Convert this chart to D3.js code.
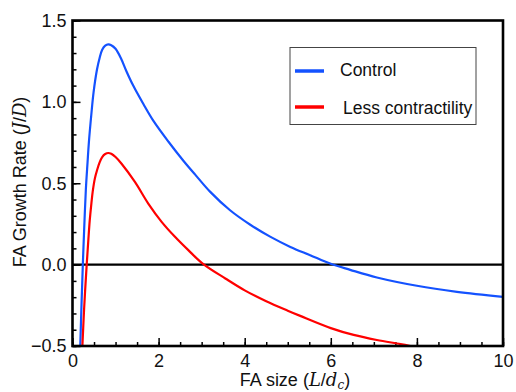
<!DOCTYPE html>
<html>
<head>
<meta charset="utf-8">
<script src="https://cdn.jsdelivr.net/npm/d3@7"></script>
<style>
  body { margin: 0; background: #fff; }
  svg { display: block; }
  text { font-family: "Liberation Sans", Arial, sans-serif; fill: #111; }
</style>
</head>
<body>
<div id="canvas"></div>
<script>
"use strict"

// values
let controlX = [0.18, 0.21, 0.24, 0.27, 0.31, 0.35, 0.38, 0.44, 0.49, 0.57, 0.63, 0.69, 0.76, 0.83, 0.90, 1.0, 1.13, 1.25, 1.41, 1.65, 1.88, 2.23, 2.58, 2.85, 3.2, 3.66, 4.13, 4.59, 5.06, 5.52, 6.0, 6.45, 7.07, 8.0, 8.93, 10.0];
let controlY = [-0.5, -0.24, 0.0, 0.21, 0.46, 0.63, 0.75, 0.93, 1.06, 1.20, 1.27, 1.32, 1.345, 1.353, 1.348, 1.326, 1.265, 1.19, 1.10, 0.985, 0.883, 0.755, 0.637, 0.553, 0.447, 0.334, 0.245, 0.172, 0.109, 0.058, 0.005, -0.032, -0.079, -0.13, -0.167, -0.198];

let lessX = [0.23, 0.27, 0.33, 0.37, 0.40, 0.44, 0.47, 0.52, 0.57, 0.63, 0.69, 0.76, 0.83, 0.90, 1.0, 1.14, 1.45, 1.76, 2.07, 2.38, 2.69, 3.04, 3.55, 4.0, 4.5, 5.0, 5.29, 6.0, 6.53, 7.07, 7.62, 7.85];
let lessY = [-0.5, -0.27, 0.0, 0.16, 0.27, 0.38, 0.45, 0.53, 0.58, 0.628, 0.661, 0.68, 0.686, 0.681, 0.661, 0.62, 0.508, 0.375, 0.263, 0.171, 0.089, 0.003, -0.085, -0.158, -0.225, -0.283, -0.315, -0.39, -0.432, -0.463, -0.488, -0.5];

let seriesNames = ["Control", "Less contractility"];
let seriesColors = ["#1452ff", "#ff0000"];

let xTicks = [0, 2, 4, 6, 8, 10];
let yTicks = [-0.5, 0.0, 0.5, 1.0, 1.5];

let W = 516, H = 392;
let plotLeft = 72.5, plotRight = 503, plotTop = 20.5, plotBottom = 346;

let drawing = d3.select("#canvas")
    .append("svg")
    .attr("width", W)
    .attr("height", H);

let x = d3.scaleLinear().domain([0, 10]).range([plotLeft, plotRight]);
let y = d3.scaleLinear().domain([-0.5, 1.5]).range([plotBottom, plotTop]);

// minor ticks
drawing.append("g")
    .attr("transform", `translate(0,${plotBottom})`)
    .call(d3.axisBottom(x).tickValues(d3.range(0, 10.01, 0.5)).tickSizeInner(-4).tickSizeOuter(0).tickFormat(""))
    .call(g => g.select(".domain").remove())
    .call(g => g.selectAll("line").attr("stroke", "#000").attr("stroke-width", 1.5));

drawing.append("g")
    .attr("transform", `translate(${plotLeft},0)`)
    .call(d3.axisLeft(y).tickValues(d3.range(-0.5, 1.51, 0.1)).tickSizeInner(-4).tickSizeOuter(0).tickFormat(""))
    .call(g => g.select(".domain").remove())
    .call(g => g.selectAll("line").attr("stroke", "#000").attr("stroke-width", 1.5));

// major ticks
let xAxis = drawing.append("g")
    .attr("transform", `translate(0,${plotBottom})`)
    .call(d3.axisBottom(x).tickValues(xTicks).tickSizeInner(-8).tickSizeOuter(0).tickPadding(8).tickFormat(d3.format("d")))
    .call(g => g.select(".domain").remove());
xAxis.selectAll("line").attr("stroke", "#000").attr("stroke-width", 1.5);
xAxis.selectAll("text").attr("font-size", 18).attr("fill", "#111")
    .attr("font-family", "Liberation Sans, Arial, sans-serif");

let yAxis = drawing.append("g")
    .attr("transform", `translate(${plotLeft},0)`)
    .call(d3.axisLeft(y).tickValues(yTicks).tickSizeInner(-8).tickSizeOuter(0).tickPadding(6).tickFormat(d3.format(".1f")))
    .call(g => g.select(".domain").remove());
yAxis.selectAll("line").attr("stroke", "#000").attr("stroke-width", 1.5);
yAxis.selectAll("text").attr("font-size", 18).attr("fill", "#111")
    .attr("font-family", "Liberation Sans, Arial, sans-serif");

// zero line
drawing.append("line")
    .attr("x1", plotLeft).attr("x2", plotRight)
    .attr("y1", y(0)).attr("y2", y(0))
    .attr("stroke", "#000")
    .attr("stroke-width", 2.2);

// curves
drawing.append("clipPath").attr("id", "plotClip")
    .append("rect")
    .attr("x", plotLeft).attr("y", plotTop)
    .attr("width", plotRight - plotLeft).attr("height", plotBottom - plotTop);

let line = d3.line()
    .x(d => x(d[0]))
    .y(d => y(d[1]))
    .curve(d3.curveCatmullRom.alpha(0.5));

let series = [d3.zip(controlX, controlY), d3.zip(lessX, lessY)];

series.forEach((pts, i) => {
    drawing.append("path")
        .attr("d", line(pts))
        .attr("fill", "none")
        .attr("stroke", seriesColors[i])
        .attr("stroke-width", 2.2)
        .attr("clip-path", "url(#plotClip)");
});

// frame
drawing.append("rect")
    .attr("x", plotLeft).attr("y", plotTop)
    .attr("width", plotRight - plotLeft).attr("height", plotBottom - plotTop)
    .attr("fill", "none")
    .attr("stroke", "#000")
    .attr("stroke-width", 2.6);

// legend
let legend = drawing.append("g");
legend.append("rect")
    .attr("x", 290).attr("y", 47.5)
    .attr("width", 186).attr("height", 77)
    .attr("fill", "#fff")
    .attr("stroke", "#444")
    .attr("stroke-width", 1);

let legendRows = [
    { lineY: 71, textX: 340, textY: 76 },
    { lineY: 107, textX: 343, textY: 114 }
];
legendRows.forEach((r, i) => {
    legend.append("line")
        .attr("x1", 295).attr("x2", 324)
        .attr("y1", r.lineY).attr("y2", r.lineY)
        .attr("stroke", seriesColors[i])
        .attr("stroke-width", 3.5);
    legend.append("text")
        .attr("x", r.textX).attr("y", r.textY)
        .attr("font-size", 17.5)
        .text(seriesNames[i]);
});

// axis titles
let yTitle = drawing.append("text")
    .attr("transform", "translate(26,182) rotate(-90)")
    .attr("text-anchor", "middle")
    .attr("font-size", 18);
yTitle.append("tspan").text("FA Growth Rate (");
yTitle.append("tspan").attr("font-family", "DejaVu Serif, serif").attr("font-style", "italic").text("J");
yTitle.append("tspan").text("/");
yTitle.append("tspan").attr("font-family", "DejaVu Serif, serif").attr("font-style", "italic").text("D");
yTitle.append("tspan").text(")");

let xTitle = drawing.append("text")
    .attr("x", 295).attr("y", 386)
    .attr("text-anchor", "middle")
    .attr("font-size", 18);
xTitle.append("tspan").text("FA size (");
xTitle.append("tspan").attr("font-family", "DejaVu Serif, serif").attr("font-style", "italic").text("L");
xTitle.append("tspan").text("/");
xTitle.append("tspan").attr("font-family", "DejaVu Serif, serif").attr("font-style", "italic").text("d");
xTitle.append("tspan").attr("font-family", "DejaVu Serif, serif").attr("font-style", "italic")
    .attr("font-size", 12).attr("dy", 3).text("c");
xTitle.append("tspan").attr("dy", -3).text(")");
</script>
</body>
</html>
